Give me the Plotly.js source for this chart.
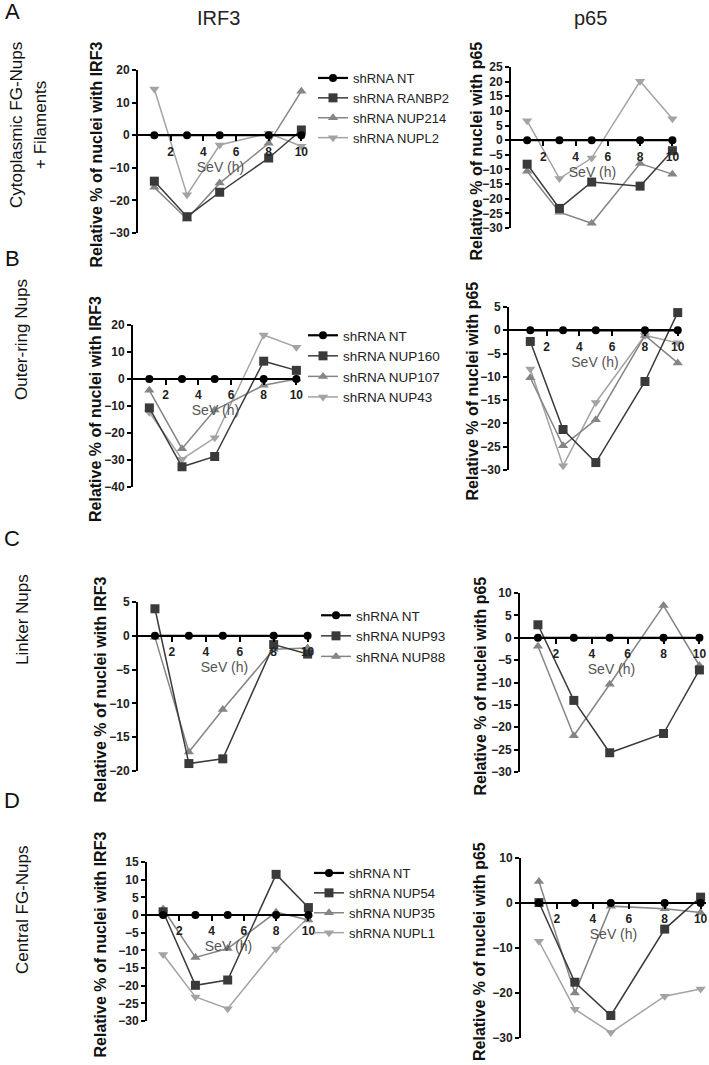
<!DOCTYPE html>
<html>
<head>
<meta charset="utf-8">
<script src="https://cdn.plot.ly/plotly-3.0.1.min.js"></script>
<style>
  body { margin: 0; background: #fff; }
  #myDiv { width: 709px; height: 1065px; }
</style>
</head>
<body>
<div id="myDiv"></div>
<script>
/*******************************************************************************************
										Data
*******************************************************************************************/
var hours = [1, 3, 5, 8, 10];
var ntValues = [0, 0, 0, 0, 0];

// A - Cytoplasmic FG-Nups + Filaments
var irf3_RANBP2 = [-14.1, -25.0, -17.5, -7.0, 1.6];
var irf3_NUP214 = [-16.0, -25.7, -14.7, -2.5, 13.5];
var irf3_NUPL2  = [14.2, -18.3, -3.0, 0.6, -3.4];
var p65_RANBP2  = [-8.2, -23.3, -14.3, -15.7, -3.6];
var p65_NUP214  = [-10.6, -24.6, -28.4, -8.0, -11.6];
var p65_NUPL2   = [6.6, -13.1, -6.1, 20.1, 7.3];

// B - Outer-ring Nups
var irf3_NUP160 = [-10.7, -32.5, -28.7, 6.6, 3.2];
var irf3_NUP107 = [-4.2, -25.8, -11.5, -2.3, 0.0];
var irf3_NUP43  = [-12.3, -29.7, -21.8, 16.3, 11.8];
var p65_NUP160  = [-2.4, -21.3, -28.4, -11.0, 3.8];
var p65_NUP107  = [-10.2, -24.8, -19.2, -1.1, -7.0];
var p65_NUP43   = [-8.3, -29.1, -15.5, -1.1, -2.7];

// C - Linker Nups
var irf3_NUP93 = [4.0, -18.9, -18.2, -1.3, -2.7];
var irf3_NUP88 = [-0.2, -17.2, -10.9, -2.0, -1.8];
var p65_NUP93  = [2.9, -14.0, -25.7, -21.4, -7.2];
var p65_NUP88  = [-1.9, -21.9, -10.4, 7.2, -6.2];

// D - Central FG-Nups
var irf3_NUP54 = [0.9, -19.9, -18.4, 11.5, 2.1];
var irf3_NUP35 = [1.7, -12.0, -9.5, 0.8, -1.4];
var irf3_NUPL1 = [-11.2, -23.2, -26.5, -9.6, -0.7];
var p65_NUP54  = [0.1, -17.6, -25.0, -5.8, 1.3];
var p65_NUP35  = [4.8, -20.0, -0.7, -1.3, -2.1];
var p65_NUPL1  = [-8.5, -23.6, -28.8, -20.7, -19.1];

var xTicks = [2, 4, 6, 8, 10];


/*******************************************************************************************
										Styles and panel layout
*******************************************************************************************/
var W = 709, H = 1065;

var styles = {
	nt:   {color: "#000000", symbol: "circle",        size: 8, width: 2.2},
	sq:   {color: "#3a3a3a", symbol: "square",        size: 9, width: 1.5},
	up:   {color: "#858585", symbol: "triangle-up",   size: 9, width: 1.5},
	down: {color: "#a3a3a3", symbol: "triangle-down", size: 9, width: 1.5}
};

// pixel boxes of each plot area: left, right, top, bottom, yrange, xrange, dtick, y-title centre x
var panels = [
	{l: 138, r: 303, t: 70,  b: 233,  yr: [-30, 20], xr: [0, 10.1],    dt: 10, title: "IRF3", tx: 96},
	{l: 511, r: 674, t: 67,  b: 228,  yr: [-30, 25], xr: [0, 10.1],    dt: 5,  title: "p65",  tx: 476},
	{l: 133, r: 298, t: 325, b: 487,  yr: [-40, 20], xr: [0, 10.1],    dt: 10, title: "IRF3", tx: 95},
	{l: 509, r: 681, t: 307, b: 470,  yr: [-30, 5],  xr: [-0.3, 10.2], dt: 5,  title: "p65",  tx: 472},
	{l: 138, r: 311, t: 602, b: 771,  yr: [-20, 5],  xr: [0, 10.2],    dt: 5,  title: "IRF3", tx: 100},
	{l: 520, r: 703, t: 593, b: 772,  yr: [-30, 10], xr: [0, 10.2],    dt: 5,  title: "p65",  tx: 480},
	{l: 147, r: 310, t: 862, b: 1021, yr: [-30, 15], xr: [0, 10.1],    dt: 5,  title: "IRF3", tx: 100},
	{l: 521, r: 706, t: 858, b: 1038, yr: [-30, 10], xr: [0, 10.3],    dt: 10, title: "p65",  tx: 479}
];

// series of each panel: [name, values, style]
var panelSeries = [
	[["shRNA NT", ntValues, "nt"], ["shRNA RANBP2", irf3_RANBP2, "sq"], ["shRNA NUP214", irf3_NUP214, "up"], ["shRNA NUPL2", irf3_NUPL2, "down"]],
	[["shRNA NT", ntValues, "nt"], ["shRNA RANBP2", p65_RANBP2, "sq"], ["shRNA NUP214", p65_NUP214, "up"], ["shRNA NUPL2", p65_NUPL2, "down"]],
	[["shRNA NT", ntValues, "nt"], ["shRNA NUP160", irf3_NUP160, "sq"], ["shRNA NUP107", irf3_NUP107, "up"], ["shRNA NUP43", irf3_NUP43, "down"]],
	[["shRNA NT", ntValues, "nt"], ["shRNA NUP160", p65_NUP160, "sq"], ["shRNA NUP107", p65_NUP107, "up"], ["shRNA NUP43", p65_NUP43, "down"]],
	[["shRNA NT", ntValues, "nt"], ["shRNA NUP93", irf3_NUP93, "sq"], ["shRNA NUP88", irf3_NUP88, "up"]],
	[["shRNA NT", ntValues, "nt"], ["shRNA NUP93", p65_NUP93, "sq"], ["shRNA NUP88", p65_NUP88, "up"]],
	[["shRNA NT", ntValues, "nt"], ["shRNA NUP54", irf3_NUP54, "sq"], ["shRNA NUP35", irf3_NUP35, "up"], ["shRNA NUPL1", irf3_NUPL1, "down"]],
	[["shRNA NT", ntValues, "nt"], ["shRNA NUP54", p65_NUP54, "sq"], ["shRNA NUP35", p65_NUP35, "up"], ["shRNA NUPL1", p65_NUPL1, "down"]]
];

// legends (only next to the IRF3 panels), top-left corner in pixels
var legends = [
	{x: 313, y: 63,  size: 13},
	{x: 303, y: 320, size: 13.5},
	{x: 316, y: 600, size: 13.5},
	{x: 309, y: 858, size: 13}
];

function px(x) { return x / W; }
function py(y) { return 1 - y / H; }


/*******************************************************************************************
										Build traces
*******************************************************************************************/
function create_trace(name, values, styleKey, idx, legendName, rank){
	var s = styles[styleKey];
	var suffix = idx === 0 ? "" : String(idx + 1);
	return {
		x: hours,
		y: values,
		name: name,
		type: "scatter",
		mode: "lines+markers",
		xaxis: "x" + suffix,
		yaxis: "y" + suffix,
		cliponaxis: false,
		legend: legendName,
		legendrank: rank,
		showlegend: idx % 2 === 0,
		line: {color: s.color, width: s.width},
		marker: {color: s.color, symbol: s.symbol, size: s.size}
	};
}

function push_traces(){
	var data = [];
	for (var i = 0; i < panelSeries.length; i++) {
		var legIdx = Math.floor(i / 2);
		var legendName = legIdx === 0 ? "legend" : "legend" + (legIdx + 1);
		// draw from the last series to the first so the black NT line ends on top,
		// legendrank keeps the legend in the original order
		for (var k = panelSeries[i].length - 1; k >= 0; k--) {
			var row = panelSeries[i][k];
			data.push(create_trace(row[0], row[1], row[2], i, legendName, k + 1));
		}
	}
	return data;
}


/*******************************************************************************************
										Layout
*******************************************************************************************/
function text_note(text, x, y, size, extra){
	var a = {text: text, x: px(x), y: py(y), xref: "paper", yref: "paper",
		xanchor: "center", yanchor: "middle", showarrow: false,
		font: {size: size, color: "#111"}};
	for (var k in extra) a[k] = extra[k];
	return a;
}

function build_layout(){
	var layout = {
		width: W,
		height: H,
		margin: {l: 0, r: 0, t: 0, b: 0},
		paper_bgcolor: "#ffffff",
		plot_bgcolor: "rgba(0,0,0,0)",
		font: {family: "Liberation Sans, Arial, sans-serif", color: "#222"},
		annotations: [],
		hovermode: false
	};

	for (var i = 0; i < panels.length; i++) {
		var p = panels[i];
		var suffix = i === 0 ? "" : String(i + 1);
		var yBottom = py(p.b), yTop = py(p.t);
		// x axis crosses at y = 0
		var zeroPos = yBottom + (0 - p.yr[0]) / (p.yr[1] - p.yr[0]) * (yTop - yBottom);

		layout["xaxis" + suffix] = {
			domain: [px(p.l), px(p.r)],
			range: p.xr,
			anchor: "free",
			position: zeroPos,
			showline: true, linecolor: "#000", linewidth: 2,
			ticks: "outside", ticklen: 5, tickwidth: 2, tickcolor: "#000",
			tickvals: xTicks,
			tickfont: {size: 12, weight: "bold", color: "#222"},
			showgrid: false, zeroline: false,
			title: {text: "SeV (h)", font: {size: 14, color: "#555"}, standoff: 2}
		};
		layout["yaxis" + suffix] = {
			domain: [yBottom, yTop],
			range: p.yr,
			dtick: p.dt,
			anchor: "x" + suffix,
			showline: true, linecolor: "#000", linewidth: 2,
			ticks: "outside", ticklen: 4, tickwidth: 2, tickcolor: "#000",
			tickfont: {size: 12, weight: "bold", color: "#222"},
			showgrid: false, zeroline: false
		};
		// y axis title, set close to the tick labels as in the figure
		layout.annotations.push(text_note("Relative % of nuclei with " + p.title, p.tx, (p.t + p.b) / 2 + 3, 16,
			{textangle: -90, font: {size: 16, weight: "bold", color: "#111"}}));
	}

	for (var j = 0; j < legends.length; j++) {
		var L = legends[j];
		layout[j === 0 ? "legend" : "legend" + (j + 1)] = {
			x: px(L.x), y: py(L.y),
			xanchor: "left", yanchor: "top",
			bgcolor: "rgba(0,0,0,0)",
			itemwidth: 30,
			tracegroupgap: 0,
			traceorder: "normal",
			font: {size: L.size, color: "#222"}
		};
	}

	// column headers
	layout.annotations.push(text_note("IRF3", 218, 18, 20, {font: {size: 20, color: "#222"}}));
	layout.annotations.push(text_note("p65", 590, 18, 20, {font: {size: 20, color: "#222"}}));

	// row letters and group names
	var rowLabels = [
		{letter: "A", ly: 12,  lines: [["Cytoplasmic FG-Nups", 16], ["+ Filaments", 40]], cy: 125},
		{letter: "B", ly: 258, lines: [["Outer-ring Nups", 22]], cy: 340},
		{letter: "C", ly: 538, lines: [["Linker Nups", 22]], cy: 620},
		{letter: "D", ly: 800, lines: [["Central FG-Nups", 22]], cy: 910}
	];
	for (var r = 0; r < rowLabels.length; r++) {
		var R = rowLabels[r];
		layout.annotations.push(text_note(R.letter, 12, R.ly, 22, {font: {size: 22, color: "#111"}}));
		for (var m = 0; m < R.lines.length; m++) {
			layout.annotations.push(text_note(R.lines[m][0], R.lines[m][1], R.cy, 17,
				{textangle: -90, font: {size: 17, color: "#111"}}));
		}
	}
	return layout;
}


/************************ plot the data on the display *************************/
function plot_figure(){
	var data = push_traces();
	var layout = build_layout();
	var config = {staticPlot: true, responsive: false};
	Plotly.newPlot("myDiv", data, layout, config);
}

plot_figure();
</script>
</body>
</html>
